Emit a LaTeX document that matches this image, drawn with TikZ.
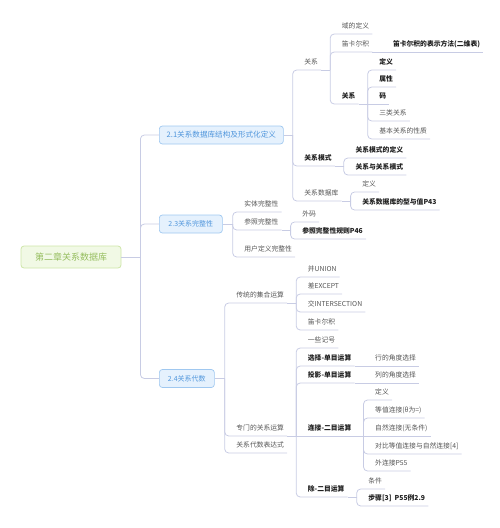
\documentclass[tikz,border=0pt]{standalone}
\usepackage{fontspec}
\setmainfont{Noto Sans CJK SC}
\definecolor{linec}{RGB}{200,204,228}
\definecolor{rootfill}{RGB}{241,249,229}
\definecolor{rootdraw}{RGB}{206,230,168}
\definecolor{roottext}{RGB}{150,190,95}
\definecolor{lfill}{RGB}{229,241,253}
\definecolor{ldraw}{RGB}{160,200,240}
\definecolor{ltext}{RGB}{80,150,220}
\definecolor{normc}{RGB}{85,85,85}
\definecolor{boldc}{RGB}{30,30,30}
\newcommand\tnode[5]{\node[#1] (#2) at (#3 |- 0,#4) {#5};\draw[conn,rc] (#3) |- (#2.south east);}
\newcommand\tnodeh[5]{\node[#1] (#2) at (#3 |- 0,#4) {#5};\draw[conn] (#3) -- (#2.south east);}
\newcommand\junc[1]{\coordinate (#1-j) at ([xshift=9pt]#1.south east);\draw[conn] (#1.south east) -- (#1-j);}
\begin{document}
\begin{tikzpicture}[x=1pt,y=-1pt,
  conn/.style={draw=linec,line width=0.8pt},
  rc/.style={rounded corners=4pt},
  topic/.style={anchor=south west,inner xsep=0pt,inner ysep=0pt,text height=6pt,text depth=5.4pt,
    font=\fontsize{6.8}{8}\selectfont,text=normc,
    execute at begin node={\kern11.5pt},execute at end node={\kern3pt}},
  strong/.style={topic,font=\fontsize{6.8}{8}\selectfont\bfseries,text=boldc},
  rootbox/.style={draw=rootdraw,fill=rootfill,line width=0.8pt,rounded corners=3pt,text=roottext,
    font=\fontsize{9}{10}\selectfont,minimum width=100pt,minimum height=22pt,inner sep=0pt},
  lbox/.style={draw=ldraw,fill=lfill,line width=0.7pt,rounded corners=3pt,text=ltext,anchor=west,
    font=\fontsize{7}{8}\selectfont,minimum height=18pt,inner sep=0pt}]
\path[use as bounding box] (0,0) rectangle (500,528);

% root and level 1
\node[rootbox] (root) at (71,257) {第二章关系数据库};
\node[lbox,minimum width=124pt,font=\fontsize{7.6}{8}\selectfont] (b21) at (159,135) {2.1关系数据库结构及形式化定义};
\node[lbox,minimum width=63pt] (b23) at (159,224) {2.3关系完整性};
\node[lbox,minimum width=55pt] (b24) at (159,378.5) {2.4关系代数};
\coordinate (rj) at ([xshift=19pt]root.east);
\draw[conn] (root.east) -- (rj);
\draw[conn,rc] (rj) |- (b21.west);
\draw[conn,rc] (rj) |- (b23.west);
\draw[conn,rc] (rj) |- (b24.west);
\coordinate (b21-j) at ([xshift=9pt]b21.east);
\draw[conn] (b21.east) -- (b21-j);
\coordinate (b23-j) at ([xshift=10pt]b23.east);
\draw[conn] (b23.east) -- (b23-j);
\coordinate (b24-j) at ([xshift=10pt]b24.east);
\draw[conn] (b24.east) -- (b24-j);

% 2.1
\tnode{topic}{n1}{b21-j}{70}{关系}
\junc{n1}
\tnode{topic}{n11}{n1-j}{34}{域的定义}
\tnode{topic}{n12}{n1-j}{52}{笛卡尔积}
\junc{n12}
\tnodeh{strong}{n121}{n12-j}{52}{笛卡尔积的表示方法(二维表)}
\tnode{strong}{n13}{n1-j}{104}{关系}
\junc{n13}
\tnode{strong}{n131}{n13-j}{70}{定义}
\tnode{strong}{n132}{n13-j}{87}{属性}
\tnodeh{strong}{n133}{n13-j}{104}{码}
\tnode{topic}{n134}{n13-j}{121}{三类关系}
\tnode{topic}{n135}{n13-j}{139}{基本关系的性质}
\tnode{strong}{n2}{b21-j}{166}{关系模式}
\junc{n2}
\tnode{strong}{n21}{n2-j}{158}{关系模式的定义}
\tnode{strong}{n22}{n2-j}{175}{关系与关系模式}
\tnode{topic}{n3}{b21-j}{201}{关系数据库}
\junc{n3}
\tnode{topic}{n31}{n3-j}{192}{定义}
\tnode{strong}{n32}{n3-j}{210}{关系数据库的型与值P43}

% 2.3
\tnode{topic}{m1}{b23-j}{212}{实体完整性}
\tnode{topic}{m2}{b23-j}{230}{参照完整性}
\junc{m2}
\tnode{topic}{m21}{m2-j}{222}{外码}
\tnode{strong}{m22}{m2-j}{239}{参照完整性规则P46}
\tnode{topic}{m3}{b23-j}{257}{用户定义完整性}

% 2.4
\tnode{topic}{k1}{b24-j}{303}{传统的集合运算}
\junc{k1}
\tnode{topic}{k11}{k1-j}{277}{并UNION}
\tnode{topic}{k12}{k1-j}{294}{差EXCEPT}
\tnode{topic}{k13}{k1-j}{312}{交INTERSECTION}
\tnode{topic}{k14}{k1-j}{330}{笛卡尔积}
\tnode{topic}{k2}{b24-j}{436}{专门的关系运算}
\junc{k2}
\tnode{topic}{k21}{k2-j}{348}{一些记号}
\tnode{strong}{k22}{k2-j}{366}{选择-单目运算}
\junc{k22}
\tnodeh{topic}{k221}{k22-j}{366}{行的角度选择}
\tnode{strong}{k23}{k2-j}{383}{投影-单目运算}
\junc{k23}
\tnodeh{topic}{k231}{k23-j}{383}{列的角度选择}
\tnodeh{strong}{k24}{k2-j}{436}{连接-二目运算}
\junc{k24}
\tnode{topic}{k241}{k24-j}{400}{定义}
\tnode{topic}{k242}{k24-j}{418}{等值连接(θ为=)}
\tnodeh{topic}{k243}{k24-j}{436}{自然连接(无条件)}
\tnode{topic}{k244}{k24-j}{454}{对比等值连接与自然连接[4]}
\tnode{topic}{k245}{k24-j}{471}{外连接P55}
\tnode{strong}{k25}{k2-j}{497}{除-二目运算}
\junc{k25}
\tnode{topic}{k251}{k25-j}{489}{条件}
\tnode{strong}{k252}{k25-j}{506}{步骤[3]\ \ P55例2.9}
\tnode{topic}{k3}{b24-j}{453}{关系代数表达式}
\end{tikzpicture}
\end{document}
